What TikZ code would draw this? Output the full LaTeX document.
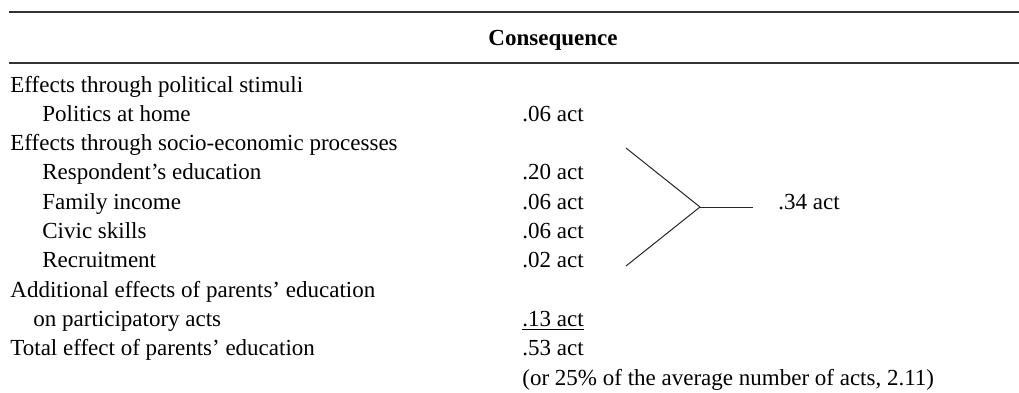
\documentclass[tikz,border=0pt]{standalone}
\usepackage{fontspec}
\setmainfont{Liberation Serif}
\begin{document}
\begin{tikzpicture}[x=0.5pt,y=-0.5pt,
  row/.style={anchor=base west, inner sep=0pt, font=\fontsize{11.5}{13}\selectfont},
  rule/.style={draw, line width=0.65pt, black!80},
  fork/.style={draw, line width=0.5pt, black!85}]
\useasboundingbox (0,0) rectangle (1019,392);
\coordinate (t1) at (9,12);
\coordinate (t2) at (1019,12);
\coordinate (m1) at (9,63);
\coordinate (m2) at (1019,63);
\path[rule] (t1) -- (t2);
\path[rule] (m1) -- (m2);
\node[row, anchor=base, font=\fontsize{11.5}{13}\selectfont\bfseries] (0) at (553,45) {Consequence};
% row labels
\node[row] (1) at (10,92) {Effects through political stimuli};
\node[row] (2) at (42,121.3) {Politics at home};
\node[row] (3) at (10,150.6) {Effects through socio-economic processes};
\node[row] (4) at (42,179.9) {Respondent's education};
\node[row] (5) at (42,209.2) {Family income};
\node[row] (6) at (42,238.5) {Civic skills};
\node[row] (7) at (42,267.8) {Recruitment};
\node[row] (8) at (10,297.1) {Additional effects of parents' education};
\node[row] (9) at (33,326.4) {on participatory acts};
\node[row] (10) at (10,355.7) {Total effect of parents' education};
% values
\node[row] (v2) at (522,121.3) {.06 act};
\node[row] (v4) at (522,179.9) {.20 act};
\node[row] (v5) at (522,209.2) {.06 act};
\node[row] (v6) at (522,238.5) {.06 act};
\node[row] (v7) at (522,267.8) {.02 act};
\node[row] (v9) at (522,326.4) {\underline{.13 act}};
\node[row] (v10) at (522,355.7) {.53 act};
\node[row] (v11) at (522,385) {(or 25\% of the average number of acts, 2.11)};
\node[row] (s) at (778,209.2) {.34 act};
% fork
\coordinate (a1) at (626,148);
\coordinate (a2) at (626,266);
\coordinate (k) at (700,207);
\coordinate (k2) at (753,207);
\path[fork] (a1) -- (k);
\path[fork] (a2) -- (k);
\path[fork] (k) -- (k2);
\end{tikzpicture}
\end{document}
